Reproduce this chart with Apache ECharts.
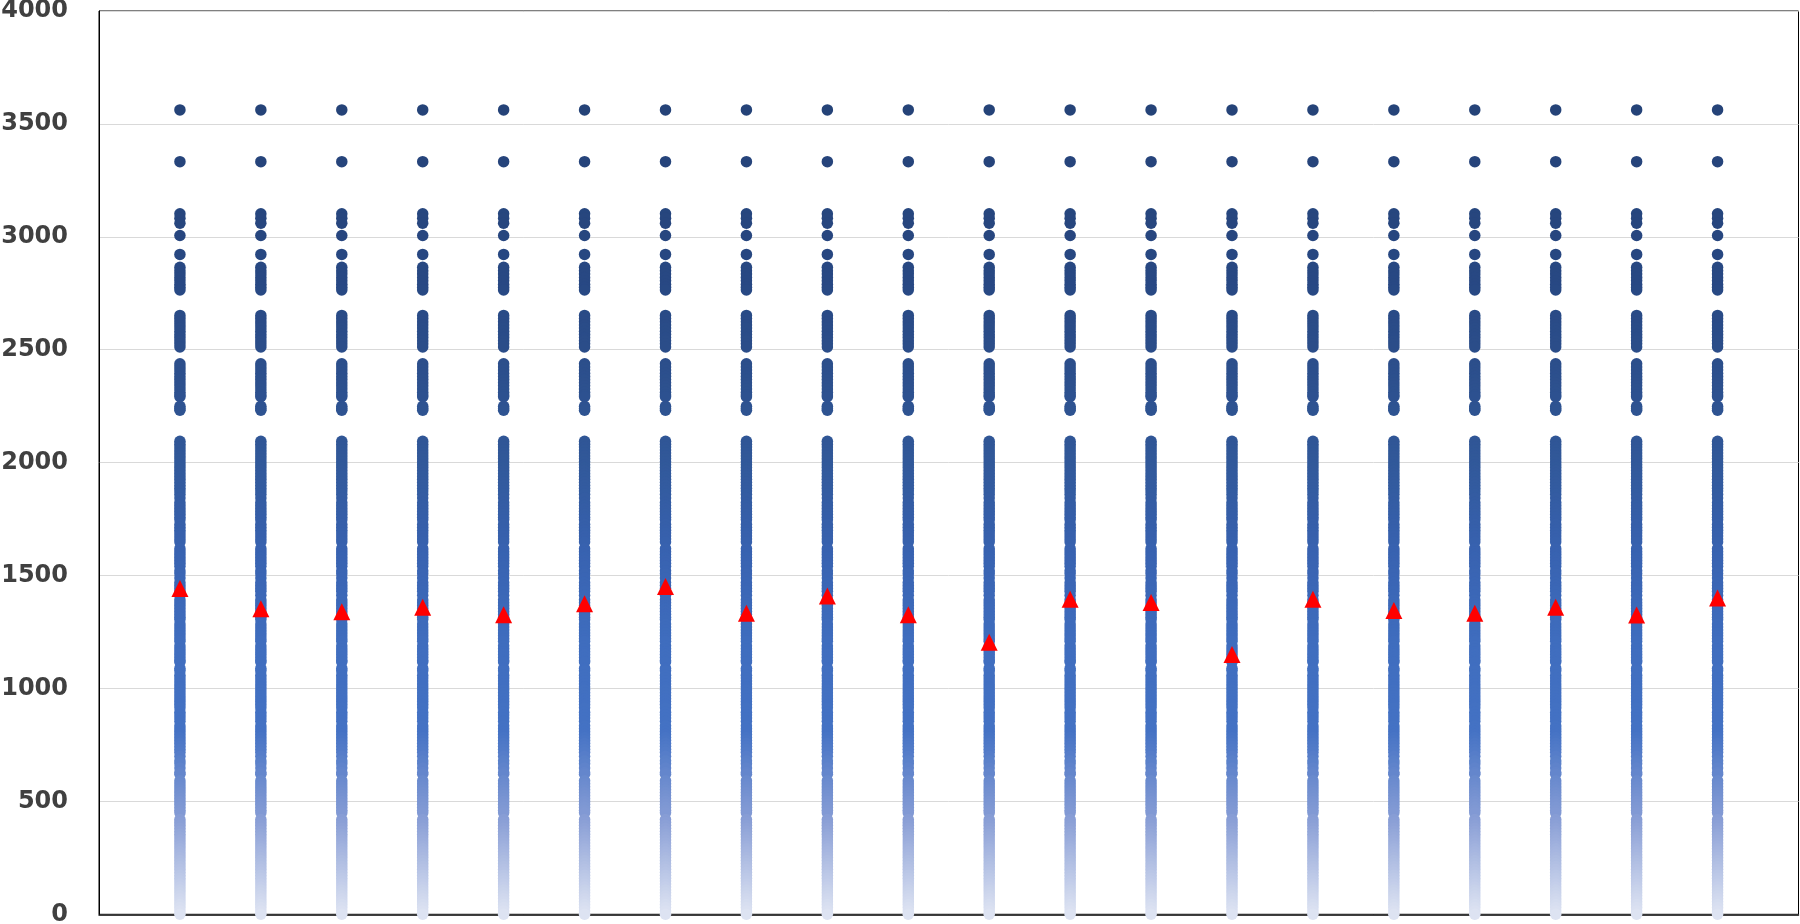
<!DOCTYPE html>
<html>
<head>
<meta charset="utf-8">
<style>
html,body{margin:0;padding:0;background:#fff;}
#chart{width:1800px;height:924px;}
</style>
<script src="https://cdn.jsdelivr.net/npm/echarts@6/dist/echarts.min.js"></script>
</head>
<body>
<div id="chart"></div>
<script>
// Column positions (x values 1..20)
const columns = [1,2,3,4,5,6,7,8,9,10,11,12,13,14,15,16,17,18,19,20];

// Values of the dots, same set in every column
const dotValues = [
  3562, 3333, 3102, 3082, 3060, 3006, 2922,
  2865, 2850, 2835, 2820, 2805, 2790, 2777, 2765,
  2652, 2638, 2624, 2610, 2596, 2582, 2568, 2554, 2540, 2526, 2512,
  2438, 2424, 2410, 2396, 2382, 2368, 2354, 2340, 2326, 2312, 2300, 2292,
  2250, 2240, 2232,
  2095, 2082, 2069, 2056, 2043, 2030, 2017, 2004, 1991, 1978, 1965, 1952, 1939, 1926, 1913, 1900, 1887, 1874, 1860, 1843,
  1823, 1810, 1797, 1784, 1771, 1758, 1747,
  1727, 1714, 1701, 1688, 1675, 1662, 1649,
  1619, 1606, 1593, 1580, 1567, 1554, 1541,
  1521, 1508, 1489,
  1469, 1456, 1443, 1430, 1413,
  1393, 1380, 1367, 1354, 1341, 1328, 1315, 1305,
  1285, 1272, 1259, 1246, 1233, 1220, 1209,
  1189, 1176, 1163, 1150, 1137, 1124, 1117,
  1089, 1079,
  1059, 1046, 1033, 1020, 1007, 994, 981, 968, 955, 942, 929, 915,
  895, 882, 869, 855,
  835, 822, 809, 796, 783, 770, 757, 744, 731, 718, 700,
  680, 667, 648,
  628, 620,
  591, 578, 565, 552, 539, 526, 513, 500, 487, 474, 461, 450,
  420, 407, 394, 381, 368, 355, 342, 329, 316, 303, 290, 277, 264, 251, 238, 225, 212,
  199, 186, 173, 160, 147, 134, 121, 108, 95, 82, 69, 56, 43, 30, 15, 0
];

// Red triangle value per column
const triangleValues = [1443, 1353, 1340, 1360, 1326, 1375, 1452, 1333, 1409, 1326,
                        1205, 1395, 1381, 1150, 1395, 1345, 1333, 1360, 1325, 1401];

// Y axis ticks
const yTicks = {min: 0, max: 4000, interval: 500};

const dotData = [];
columns.forEach(c => dotValues.forEach(v => dotData.push([c, v])));
const triData = columns.map((c, i) => [c, triangleValues[i]]);

const chart = echarts.init(document.getElementById('chart'), null, {renderer: 'canvas'});
chart.setOption({
  animation: false,
  backgroundColor: '#ffffff',
  grid: {left: 99, right: 1.5, top: 11, bottom: 9.7, show: true, borderColor: '#000', borderWidth: 1,
         containLabel: false, outerBoundsMode: 'none'},
  xAxis: {
    type: 'value', min: 0, max: 21,
    axisLine: {show: true, onZero: false, lineStyle: {color: '#000', width: 1.5}},
    axisTick: {show: false}, axisLabel: {show: false}, splitLine: {show: false}
  },
  yAxis: {
    type: 'value', min: yTicks.min, max: yTicks.max, interval: yTicks.interval,
    axisLine: {show: true, lineStyle: {color: '#000', width: 1}},
    axisTick: {show: false},
    axisLabel: {color: '#404040', fontFamily: 'DejaVu Sans', fontWeight: 'bold', fontSize: 24, margin: 31,
                formatter: v => String(v)},
    splitLine: {show: true, lineStyle: {color: '#d9d9d9', width: 1}}
  },
  visualMap: {
    show: false, type: 'continuous', seriesIndex: 0, dimension: 1, min: 0, max: 3600,
    inRange: {color: ['#dde3f2', '#8a9fd6', '#4472c4', '#3f6dbe', '#3862b0', '#315899', '#2c4f8c', '#284883', '#26457c', '#254378']}
  },
  series: [
    {type: 'scatter', data: dotData, symbol: 'circle', symbolSize: 11.5, large: false, itemStyle: {opacity: 1}, z: 2},
    {type: 'scatter', data: triData, symbol: 'triangle', symbolSize: 17, itemStyle: {color: '#ff0000', opacity: 1}, z: 3}
  ]
});
</script>
</body>
</html>
